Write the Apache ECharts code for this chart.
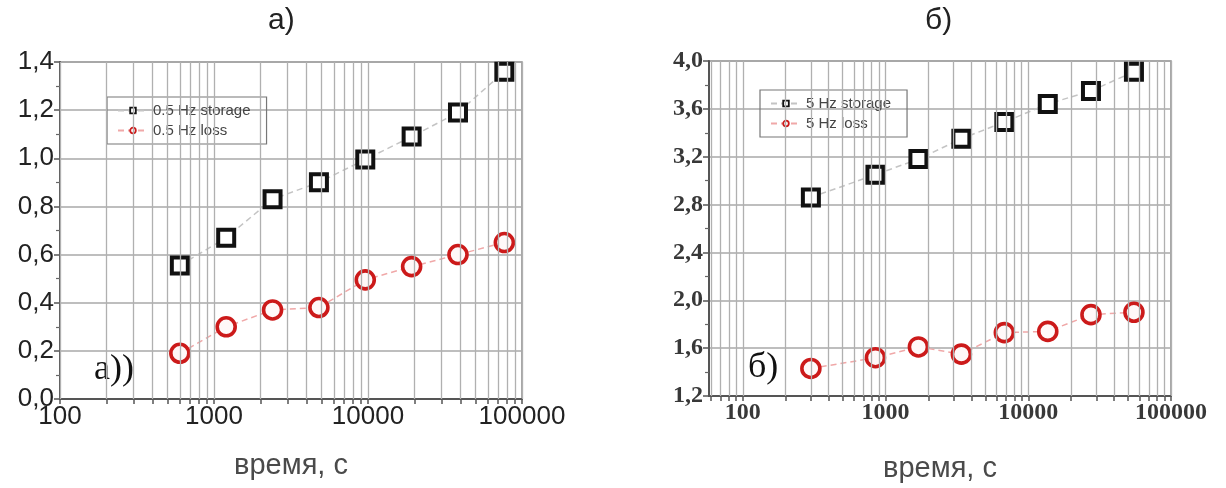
<!DOCTYPE html>
<html><head><meta charset="utf-8">
<script src="https://cdn.jsdelivr.net/npm/echarts@6/dist/echarts.min.js"></script>
<style>html,body{margin:0;padding:0;background:#fff}#c{width:1226px;height:488px}</style>
</head><body><div id="c"></div>
<script>
// ---- data ----
const timeA = [600, 1200, 2400, 4800, 9600, 19200, 38400, 76800];
const storageA = [0.555, 0.67, 0.83, 0.90, 0.995, 1.09, 1.19, 1.36];
const lossA = [0.19, 0.30, 0.37, 0.38, 0.495, 0.55, 0.60, 0.65];
const timeB = [300, 850, 1700, 3400, 6800, 13700, 27500, 55000];
const storageB = [2.86, 3.05, 3.18, 3.35, 3.49, 3.64, 3.75, 3.91];
const lossB = [1.43, 1.52, 1.61, 1.55, 1.73, 1.74, 1.88, 1.90];
const majorTicksX = [100, 1000, 10000, 100000];
const yTicksA = [0, 0.2, 0.4, 0.6, 0.8, 1.0, 1.2, 1.4];
const yTicksB = [1.2, 1.6, 2.0, 2.4, 2.8, 3.2, 3.6, 4.0];
const nameA = ['0.5 Hz storage', '0.5 Hz loss'];
const nameB = ['5 Hz storage', '5 Hz loss'];

function logGridValues(from, to) {
  const out = [];
  for (let d = 10; d <= 100000; d *= 10) {
    for (let k = 1; k <= 9; k++) {
      const v = d * k;
      if (v >= from && v <= to) out.push(v);
    }
  }
  return out;
}
const gridValsA = logGridValues(100, 100000);
const gridValsB = logGridValues(60, 100000);

const sans = 'Liberation Sans, Arial, sans-serif';
const serif = 'Liberation Serif, Times New Roman, serif';
const comma = v => v.toFixed(1).replace('.', ',');

function labelStyle(font) {
  return font === serif
    ? { fontFamily: serif, fontSize: 24, fontWeight: 'bold', color: '#383838' }
    : { fontFamily: sans, fontSize: 26, color: '#222' };
}
function xAxisDef(idx, min, font, ticks) {
  return {
    type: 'log', logBase: 10, gridIndex: idx, min: min, max: 100000,
    name: 'время, с', nameLocation: 'middle', nameGap: font === serif ? 58 : 52,
    nameTextStyle: { fontFamily: sans, fontSize: 29, color: '#4a4a4a' },
    axisLine: { lineStyle: { color: '#555', width: 2 } },
    axisTick: { show: true, customValues: ticks, length: 5, lineStyle: { color: '#555', width: 1.5 } },
    axisLabel: Object.assign({ customValues: majorTicksX, margin: 5, formatter: v => String(Math.round(v)) }, labelStyle(font)),
    splitLine: { show: false }, minorTick: { show: false }
  };
}
function yAxisDef(idx, ticks, font) {
  return {
    type: 'value', gridIndex: idx, min: ticks[0], max: ticks[ticks.length - 1],
    interval: +(ticks[1] - ticks[0]).toFixed(2),
    axisLine: { show: true, lineStyle: { color: '#555', width: 2 } },
    axisTick: { show: true, length: 6, lineStyle: { color: '#555', width: 1.5 } },
    minorTick: { show: true, splitNumber: 2, length: 4, lineStyle: { color: '#666', width: 1.2 } },
    axisLabel: Object.assign({ margin: 6, formatter: comma }, labelStyle(font)),
    splitLine: { show: true, lineStyle: { color: '#a8a8a8', width: 1.5 } }
  };
}
function gridLinesSeries(idx, t, vals) {
  return {
    type: 'line', xAxisIndex: idx, yAxisIndex: idx, z: 1, silent: true,
    data: t.map(v => [v, null]), showSymbol: false, lineStyle: { opacity: 0 },
    markLine: {
      silent: true, symbol: ['none', 'none'], label: { show: false }, animation: false,
      lineStyle: { color: '#b0b0b0', width: 1.3, type: 'solid' },
      emphasis: { disabled: true },
      data: vals.map(v => ({ xAxis: v }))
    }
  };
}
function storageSeries(idx, name, t, v) {
  return {
    name: name, type: 'line', xAxisIndex: idx, yAxisIndex: idx, z: 3,
    data: t.map((x, i) => [x, v[i]]),
    symbol: 'rect', symbolSize: 16,
    itemStyle: { color: '#fff', borderColor: '#111', borderWidth: 4 },
    lineStyle: { color: '#c4c4c4', width: 1.5, type: [6, 4] }
  };
}
function lossSeries(idx, name, t, v) {
  return {
    name: name, type: 'line', xAxisIndex: idx, yAxisIndex: idx, z: 3,
    data: t.map((x, i) => [x, v[i]]),
    symbol: 'circle', symbolSize: 18,
    itemStyle: { color: '#fff8f8', borderColor: '#cc1a1a', borderWidth: 3.6 },
    lineStyle: { color: '#f0a8a8', width: 1.5, type: [6, 4] }
  };
}
function legendDef(names, left, top, padRight) {
  return {
    data: names, orient: 'vertical', left: left, top: top,
    padding: [6, padRight, 6, 10], itemGap: 5, itemWidth: 30, itemHeight: 7,
    borderColor: '#777', borderWidth: 1.2,
    textStyle: { fontFamily: sans, fontSize: 15, color: '#444' },
    itemStyle: { borderWidth: 1.8 }
  };
}

const chart = echarts.init(document.getElementById('c'), null, { renderer: 'canvas' });
chart.setOption({
  animation: false,
  backgroundColor: '#fff',
  grid: [
    { left: 60, top: 62, width: 462, height: 337, show: true, borderColor: '#8a8a8a', borderWidth: 1.5, backgroundColor: 'transparent' },
    { left: 709, top: 61, width: 462, height: 338, show: true, borderColor: '#8a8a8a', borderWidth: 1.5, backgroundColor: 'transparent' }
  ],
  xAxis: [xAxisDef(0, 100, sans, gridValsA), xAxisDef(1, 58, serif, gridValsB)],
  yAxis: [yAxisDef(0, yTicksA, sans), yAxisDef(1, yTicksB, serif)],
  legend: [legendDef(nameA, 107, 97, 16), legendDef(nameB, 760, 90, 16)],
  series: [
    gridLinesSeries(0, timeA, gridValsA),
    gridLinesSeries(1, timeB, gridValsB),
    storageSeries(0, nameA[0], timeA, storageA),
    lossSeries(0, nameA[1], timeA, lossA),
    storageSeries(1, nameB[0], timeB, storageB),
    lossSeries(1, nameB[1], timeB, lossB)
  ],
  graphic: [
    { type: 'text', left: 268, top: 6, style: { text: 'а)', font: '30px ' + sans, fill: '#222' } },
    { type: 'text', left: 925, top: 6, style: { text: 'б)', font: '30px ' + sans, fill: '#222' } },
    { type: 'text', left: 94, top: 352, style: { text: 'а))', font: '36px ' + serif, fill: '#111' } },
    { type: 'text', left: 748, top: 350, style: { text: 'б)', font: '36px ' + serif, fill: '#111' } }
  ]
});
</script></body></html>
